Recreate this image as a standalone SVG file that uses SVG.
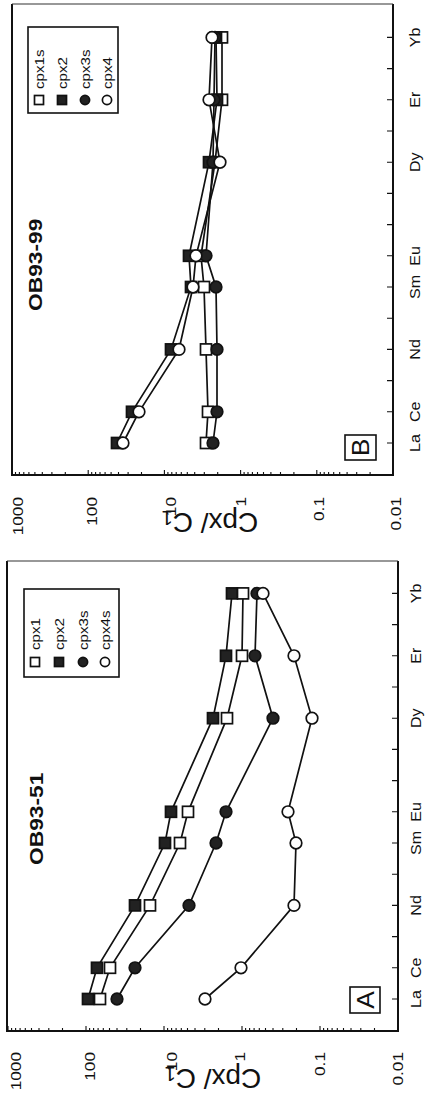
<svg xmlns="http://www.w3.org/2000/svg" width="427" height="1099" viewBox="0 0 427 1099">
<style>
.frame{fill:none;stroke:#111;stroke-width:2}
.edge{fill:none;stroke:#333;stroke-width:1.2}
.tick{fill:none;stroke:#111;stroke-width:1.1}
.ser{fill:none;stroke:#111;stroke-width:1.7}
.os{fill:#fff;stroke:#111;stroke-width:1.7}
.fs{fill:#222;stroke:#111;stroke-width:1.7}
.lbox{fill:none;stroke:#111;stroke-width:1.6}
text{font-family:"Liberation Sans",Arial,sans-serif;fill:#111}
.tl{font-size:15px;text-anchor:end}
.el{font-size:14px;text-anchor:middle}
.lg{font-size:13.5px}
.ti{font-size:19px;font-weight:bold}
.bx{font-size:24px;text-anchor:middle}
.yl{font-size:28px;text-anchor:middle}
</style>
<defs>
<rect id="sqO" x="-5.5" y="-5.5" width="11" height="11" class="os"/>
<rect id="sqF" x="-5.5" y="-5.5" width="11" height="11" class="fs"/>
<circle id="ciO" r="5.8" class="os"/>
<circle id="ciF" r="5.8" class="fs"/>
<rect id="lsqO" x="-4.5" y="-4.5" width="9" height="9" class="os"/>
<rect id="lsqF" x="-4.5" y="-4.5" width="9" height="9" class="fs"/>
<circle id="lciO" r="4.6" class="os"/>
<circle id="lciF" r="4.6" class="fs"/>
</defs>
<g transform="matrix(0 -1 1 0 0 1099)">
<!-- ===== Plot A ===== -->
<g id="plotA-axes">
<path class="frame" d="M538,7 H68 V398 H538"/>
<path class="edge" d="M538,7 V398"/>
<path class="tick" d="M68,8h5M68,86h5M68,164h5M68,242h5M68,320h5M68,398h5
M68,11.6h3M68,15.6h3M68,20.1h3M68,25.3h3M68,31.5h3M68,39h3M68,48.8h3M68,62.5h3
M68,89.6h3M68,93.6h3M68,98.1h3M68,103.3h3M68,109.5h3M68,117h3M68,126.8h3M68,140.5h3
M68,167.6h3M68,171.6h3M68,176.1h3M68,181.3h3M68,187.5h3M68,195h3M68,204.8h3M68,218.5h3
M68,245.6h3M68,249.6h3M68,254.1h3M68,259.3h3M68,265.5h3M68,273h3M68,282.8h3M68,296.5h3
M68,323.6h3M68,327.6h3M68,332.1h3M68,337.3h3M68,343.5h3M68,351h3M68,360.8h3M68,374.5h3"/>
<path class="tick" d="M100,398v-6M131.2,398v-6M162.4,398v-6M193.6,398v-6M224.8,398v-6M256,398v-6M287.2,398v-6M318.4,398v-6M349.6,398v-6M380.8,398v-6M412,398v-6M443.2,398v-6M474.4,398v-6M505.6,398v-6"/>
<text class="tl" transform="translate(47 21.4) scale(1.15 1)">1000</text>
<text class="tl" transform="translate(47 95) scale(1.15 1)">100</text>
<text class="tl" transform="translate(47 176.5) scale(1.15 1)">10</text>
<text class="tl" transform="translate(47 244.5) scale(1.15 1)">1</text>
<text class="tl" transform="translate(47 324.5) scale(1.15 1)">0.1</text>
<text class="tl" transform="translate(47 402.5) scale(1.15 1)">0.01</text>
<text class="yl" transform="translate(30 213) rotate(-90)">Cpx/ C<tspan font-size="20" dy="2">1</tspan></text>
<text class="el" transform="translate(100 421) scale(1.15 1)">La</text>
<text class="el" transform="translate(131.2 421) scale(1.15 1)">Ce</text>
<text class="el" transform="translate(193.6 421) scale(1.15 1)">Nd</text>
<text class="el" transform="translate(256 421) scale(1.15 1)">Sm</text>
<text class="el" transform="translate(287.2 421) scale(1.15 1)">Eu</text>
<text class="el" transform="translate(380.8 421) scale(1.15 1)">Dy</text>
<text class="el" transform="translate(443.2 421) scale(1.15 1)">Er</text>
<text class="el" transform="translate(505.6 421) scale(1.15 1)">Yb</text>
</g>
<g id="titleA"><text class="ti" transform="translate(234 43) scale(1.2 1)">OB93-51</text></g>
<g id="boxA"><rect class="lbox" x="86" y="350" width="26" height="30"/><text class="bx" transform="translate(99 374) scale(1.1 1)">A</text></g>
<g id="legendA">
<rect class="lbox" x="422" y="24" width="88" height="95"/>
<use href="#lsqO" x="437" y="35"/><text class="lg" transform="translate(449 39.5) scale(1.12 1)">cpx1</text>
<use href="#lsqF" x="437" y="59"/><text class="lg" transform="translate(449 63.5) scale(1.12 1)">cpx2</text>
<use href="#lciF" x="437" y="83"/><text class="lg" transform="translate(449 87.5) scale(1.12 1)">cpx3s</text>
<use href="#lciO" x="437" y="105"/><text class="lg" transform="translate(449 109.5) scale(1.12 1)">cpx4s</text>
</g>
<g id="connectorsA">
<polyline class="ser" points="100,88 131.2,97 193.6,135 256,165 287.2,171 380.8,213 443.2,226 505.6,232"/>
<polyline class="ser" points="100,100 131.2,110 193.6,150 256,180 287.2,188 380.8,227 443.2,242 505.6,243"/>
<polyline class="ser" points="100,117 131.2,135 193.6,189 256,216 287.2,226 380.8,273 443.2,255 505.6,257"/>
<polyline class="ser" points="100,205 131.2,241 193.6,294 256,296 287.2,288 380.8,312 443.2,294 505.6,263"/>
</g>
<g id="A-cpx2"><use href="#sqF" x="100" y="88"/><use href="#sqF" x="131.2" y="97"/><use href="#sqF" x="193.6" y="135"/><use href="#sqF" x="256" y="165"/><use href="#sqF" x="287.2" y="171"/><use href="#sqF" x="380.8" y="213"/><use href="#sqF" x="443.2" y="226"/><use href="#sqF" x="505.6" y="232"/></g>
<g id="A-cpx1"><use href="#sqO" x="100" y="100"/><use href="#sqO" x="131.2" y="110"/><use href="#sqO" x="193.6" y="150"/><use href="#sqO" x="256" y="180"/><use href="#sqO" x="287.2" y="188"/><use href="#sqO" x="380.8" y="227"/><use href="#sqO" x="443.2" y="242"/><use href="#sqO" x="505.6" y="243"/></g>
<g id="A-cpx3s"><use href="#ciF" x="100" y="117"/><use href="#ciF" x="131.2" y="135"/><use href="#ciF" x="193.6" y="189"/><use href="#ciF" x="256" y="216"/><use href="#ciF" x="287.2" y="226"/><use href="#ciF" x="380.8" y="273"/><use href="#ciF" x="443.2" y="255"/><use href="#ciF" x="505.6" y="257"/></g>
<g id="A-cpx4s"><use href="#ciO" x="100" y="205"/><use href="#ciO" x="131.2" y="241"/><use href="#ciO" x="193.6" y="294"/><use href="#ciO" x="256" y="296"/><use href="#ciO" x="287.2" y="288"/><use href="#ciO" x="380.8" y="312"/><use href="#ciO" x="443.2" y="294"/><use href="#ciO" x="505.6" y="263"/></g>

<!-- ===== Plot B ===== -->
<g id="plotB-axes">
<path class="frame" d="M1095,12 H624 V393 H1095"/>
<path class="edge" d="M1095,12 V393"/>
<path class="tick" d="M624,12h5M624,88.2h5M624,164.4h5M624,240.6h5M624,316.8h5M624,393h5
M624,15.5h3M624,19.4h3M624,23.8h3M624,28.9h3M624,34.9h3M624,42.3h3M624,51.9h3M624,65.3h3
M624,91.7h3M624,95.6h3M624,100h3M624,105.1h3M624,111.1h3M624,118.5h3M624,128.1h3M624,141.5h3
M624,167.9h3M624,171.8h3M624,176.2h3M624,181.3h3M624,187.3h3M624,194.7h3M624,204.3h3M624,217.7h3
M624,244.1h3M624,248h3M624,252.4h3M624,257.5h3M624,263.5h3M624,270.9h3M624,280.5h3M624,293.9h3
M624,320.3h3M624,324.2h3M624,328.6h3M624,333.7h3M624,339.7h3M624,347.1h3M624,356.7h3M624,370.1h3"/>
<path class="tick" d="M656,393v-6M687.2,393v-6M718.4,393v-6M749.6,393v-6M780.8,393v-6M812,393v-6M843.2,393v-6M874.4,393v-6M905.6,393v-6M936.8,393v-6M968,393v-6M999.2,393v-6M1030.4,393v-6M1061.6,393v-6"/>
<text class="tl" transform="translate(602 23) scale(1.15 1)">1000</text>
<text class="tl" transform="translate(602 96.5) scale(1.15 1)">100</text>
<text class="tl" transform="translate(602 175.5) scale(1.15 1)">10</text>
<text class="tl" transform="translate(602 245.5) scale(1.15 1)">1</text>
<text class="tl" transform="translate(602 324) scale(1.15 1)">0.1</text>
<text class="tl" transform="translate(602 400.5) scale(1.15 1)">0.01</text>
<text class="yl" transform="translate(586 210) rotate(-90)">Cpx/ C<tspan font-size="20" dy="2">1</tspan></text>
<text class="el" transform="translate(656 420) scale(1.15 1)">La</text>
<text class="el" transform="translate(687.2 420) scale(1.15 1)">Ce</text>
<text class="el" transform="translate(749.6 420) scale(1.15 1)">Nd</text>
<text class="el" transform="translate(812 420) scale(1.15 1)">Sm</text>
<text class="el" transform="translate(843.2 420) scale(1.15 1)">Eu</text>
<text class="el" transform="translate(936.8 420) scale(1.15 1)">Dy</text>
<text class="el" transform="translate(999.2 420) scale(1.15 1)">Er</text>
<text class="el" transform="translate(1061.6 420) scale(1.15 1)">Yb</text>
</g>
<g id="titleB"><text class="ti" transform="translate(788 42) scale(1.2 1)">OB93-99</text></g>
<g id="boxB"><rect class="lbox" x="639" y="345" width="25" height="31"/><text class="bx" transform="translate(651.5 369) scale(1.1 1)">B</text></g>
<g id="legendB">
<rect class="lbox" x="986" y="28" width="86" height="90"/>
<use href="#lsqO" x="999" y="39"/><text class="lg" transform="translate(1010 43.5) scale(1.12 1)">cpx1s</text>
<use href="#lsqF" x="999" y="62"/><text class="lg" transform="translate(1010 66.5) scale(1.12 1)">cpx2</text>
<use href="#lciF" x="999" y="85"/><text class="lg" transform="translate(1010 89.5) scale(1.12 1)">cpx3s</text>
<use href="#lciO" x="999" y="107"/><text class="lg" transform="translate(1010 111.5) scale(1.12 1)">cpx4</text>
</g>
<g id="connectorsB">
<polyline class="ser" points="656,206 687.2,208 749.6,206 812,204 843.2,201 936.8,215 999.2,222 1061.6,222"/>
<polyline class="ser" points="656,117 687.2,132 749.6,171 812,191 843.2,189 936.8,209 999.2,217 1061.6,216"/>
<polyline class="ser" points="656,213 687.2,217 749.6,217 812,216 843.2,206 936.8,213 999.2,214 1061.6,215"/>
<polyline class="ser" points="656,123 687.2,139 749.6,179 812,193 843.2,196 936.8,220 999.2,209 1061.6,212"/>
</g>
<g id="B-cpx1s"><use href="#sqO" x="656" y="206"/><use href="#sqO" x="687.2" y="208"/><use href="#sqO" x="749.6" y="206"/><use href="#sqO" x="812" y="204"/><use href="#sqO" x="843.2" y="201"/><use href="#sqO" x="936.8" y="215"/><use href="#sqO" x="999.2" y="222"/><use href="#sqO" x="1061.6" y="222"/></g>
<g id="B-cpx2"><use href="#sqF" x="656" y="117"/><use href="#sqF" x="687.2" y="132"/><use href="#sqF" x="749.6" y="171"/><use href="#sqF" x="812" y="191"/><use href="#sqF" x="843.2" y="189"/><use href="#sqF" x="936.8" y="209"/><use href="#sqF" x="999.2" y="217"/><use href="#sqF" x="1061.6" y="216"/></g>
<g id="B-cpx3s"><use href="#ciF" x="656" y="213"/><use href="#ciF" x="687.2" y="217"/><use href="#ciF" x="749.6" y="217"/><use href="#ciF" x="812" y="216"/><use href="#ciF" x="843.2" y="206"/><use href="#ciF" x="936.8" y="213"/><use href="#ciF" x="999.2" y="214"/><use href="#ciF" x="1061.6" y="215"/></g>
<g id="B-cpx4"><use href="#ciO" x="656" y="123"/><use href="#ciO" x="687.2" y="139"/><use href="#ciO" x="749.6" y="179"/><use href="#ciO" x="812" y="193"/><use href="#ciO" x="843.2" y="196"/><use href="#ciO" x="936.8" y="220"/><use href="#ciO" x="999.2" y="209"/><use href="#ciO" x="1061.6" y="212"/></g>
</g>
</svg>
